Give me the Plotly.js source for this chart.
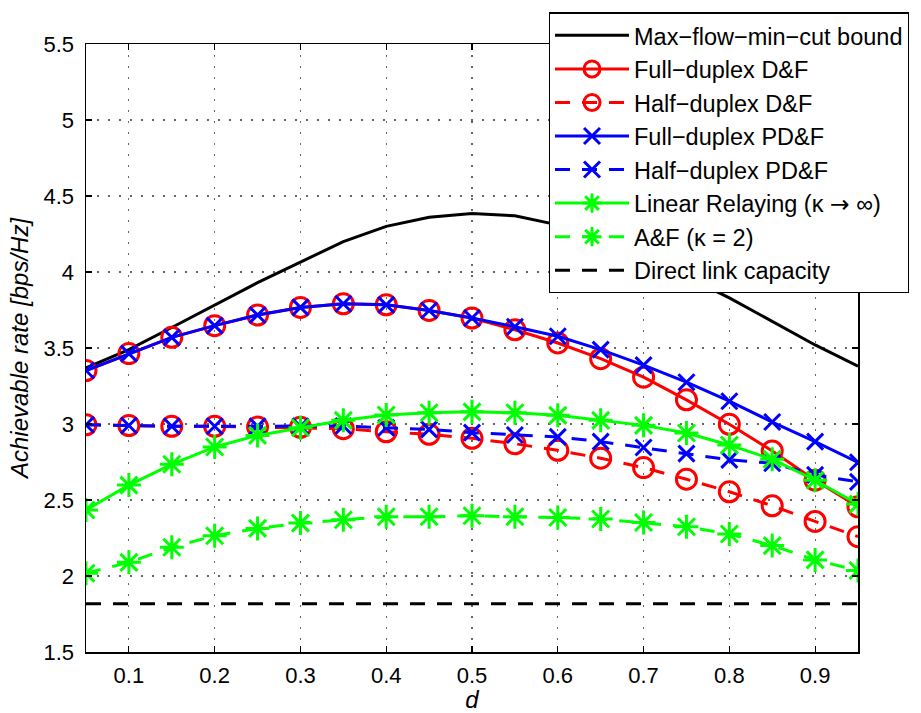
<!DOCTYPE html>
<html>
<head>
<meta charset="utf-8">
<script src="https://cdn.plot.ly/plotly-3.0.1.min.js"></script>
<style>
  html, body { margin: 0; padding: 0; background: #fff; }
  #chart { width: 921px; height: 713px; }
</style>
</head>
<body>
<div id="chart"></div>
<script>
// Relay position d (normalised source-relay distance)
const d = [0.05, 0.10, 0.15, 0.20, 0.25, 0.30, 0.35, 0.40, 0.45, 0.50,
           0.55, 0.60, 0.65, 0.70, 0.75, 0.80, 0.85, 0.90, 0.95];

// Achievable rates [bps/Hz]
const maxFlowMinCut = [3.37, 3.49, 3.635, 3.785, 3.93, 4.065, 4.20, 4.30, 4.36, 4.385,
                       4.37, 4.31, 4.22, 4.10, 3.97, 3.83, 3.675, 3.52, 3.38];
const fullDuplexDF  = [3.352, 3.463, 3.57, 3.647, 3.717, 3.767, 3.791, 3.784, 3.747, 3.697,
                       3.62, 3.533, 3.43, 3.308, 3.159, 2.998, 2.823, 2.63, 2.455];
const halfDuplexDF  = [2.995, 2.99, 2.985, 2.985, 2.98, 2.978, 2.969, 2.949, 2.932, 2.906,
                       2.87, 2.827, 2.775, 2.713, 2.637, 2.554, 2.462, 2.359, 2.259];
const fullDuplexPDF = [3.352, 3.463, 3.57, 3.647, 3.717, 3.767, 3.791, 3.784, 3.747, 3.697,
                       3.64, 3.577, 3.489, 3.387, 3.275, 3.15, 3.013, 2.884, 2.748];
const halfDuplexPDF = [2.995, 2.99, 2.985, 2.985, 2.985, 2.985, 2.987, 2.975, 2.965, 2.943,
                       2.928, 2.915, 2.884, 2.845, 2.805, 2.764, 2.742, 2.665, 2.619];
const linearRelay   = [2.434, 2.598, 2.735, 2.849, 2.925, 2.975, 3.024, 3.059, 3.074, 3.08,
                       3.074, 3.057, 3.024, 2.991, 2.941, 2.862, 2.768, 2.63, 2.473];
const amplifyFwd    = [2.018, 2.09, 2.189, 2.265, 2.313, 2.348, 2.37, 2.39, 2.39, 2.396,
                       2.39, 2.385, 2.375, 2.352, 2.324, 2.276, 2.20, 2.106, 2.036];
const directX = [0.05, 0.95];
const directY = [1.817, 1.817];

const xTicks = [0.1, 0.2, 0.3, 0.4, 0.5, 0.6, 0.7, 0.8, 0.9];
const yTicks = [1.5, 2, 2.5, 3, 3.5, 4, 4.5, 5, 5.5];

const FONT = 'Liberation Sans, Arial, Helvetica, sans-serif';
const RED = '#ff0000', BLUE = '#0000ff', GREEN = '#00ff00';
const LW = 3;
const DASH = '15px,12px';

function series(name, y, color, dash, symbol, size) {
  const t = {
    type: 'scatter', x: d, y: y, name: name,
    mode: symbol ? 'lines+markers' : 'lines',
    line: { color: color, width: LW, dash: dash }
  };
  if (symbol) {
    t.marker = { symbol: symbol, size: size, color: color,
                 line: { color: color, width: 3 } };
  }
  return t;
}

const arrowSpan = s => '<span style="font-family:DejaVu Sans">' + s + '</span>';

const traces = [
  series('Max\u2212flow\u2212min\u2212cut bound', maxFlowMinCut, '#000000', 'solid'),
  series('Full\u2212duplex D&amp;F', fullDuplexDF, RED, 'solid', 'circle-open', 20),
  series('Half\u2212duplex D&amp;F', halfDuplexDF, RED, DASH, 'circle-open', 20),
  series('Full\u2212duplex PD&amp;F', fullDuplexPDF, BLUE, 'solid', 'x-thin-open', 16),
  series('Half\u2212duplex PD&amp;F', halfDuplexPDF, BLUE, DASH, 'x-thin-open', 16),
  series('Linear Relaying (\u03ba ' + arrowSpan('\u2192') + ' \u221e)', linearRelay, GREEN, 'solid', 'asterisk-open', 20),
  series('A&amp;F (\u03ba = 2)', amplifyFwd, GREEN, DASH, 'asterisk-open', 20),
  {
    type: 'scatter', x: directX, y: directY, name: 'Direct link capacity',
    mode: 'lines', line: { color: '#000000', width: LW, dash: DASH }
  }
];

const axisCommon = {
  showline: true, linecolor: '#000', linewidth: 1.5, mirror: 'ticks',
  ticks: 'inside', ticklen: 6, tickwidth: 1.2, tickcolor: '#000',
  showgrid: true, gridcolor: '#666', gridwidth: 1.2, griddash: '1.5px,9.5px',
  zeroline: false,
  tickfont: { family: FONT, size: 22, color: '#000' }
};

const layout = {
  width: 921, height: 713,
  margin: { l: 86, r: 61, t: 42, b: 61 },
  paper_bgcolor: '#fff', plot_bgcolor: '#fff',
  font: { family: FONT, color: '#000' },
  xaxis: Object.assign({}, axisCommon, {
    range: [0.05, 0.95], tickvals: xTicks, ticktext: xTicks.map(String),
    ticklabelstandoff: 3,
    title: { text: 'd', font: { family: FONT, size: 24, style: 'italic', color: '#000' }, standoff: 1 }
  }),
  yaxis: Object.assign({}, axisCommon, {
    range: [1.5, 5.5], tickvals: yTicks, ticktext: yTicks.map(String),
    ticklabelstandoff: 6,
    title: { text: 'Achievable rate [bps/Hz]', font: { family: FONT, size: 24, style: 'italic', color: '#000' }, standoff: 8 }
  }),
  showlegend: true,
  legend: {
    x: 0.5995, y: 1.052, xanchor: 'left', yanchor: 'top',
    bgcolor: '#fff', bordercolor: '#000', borderwidth: 1.2,
    font: { family: FONT, size: 23.5, color: '#000' },
    itemwidth: 74, tracegroupgap: 0
  }
};

Plotly.newPlot('chart', traces, layout, { displayModeBar: false, staticPlot: true });
</script>
</body>
</html>
